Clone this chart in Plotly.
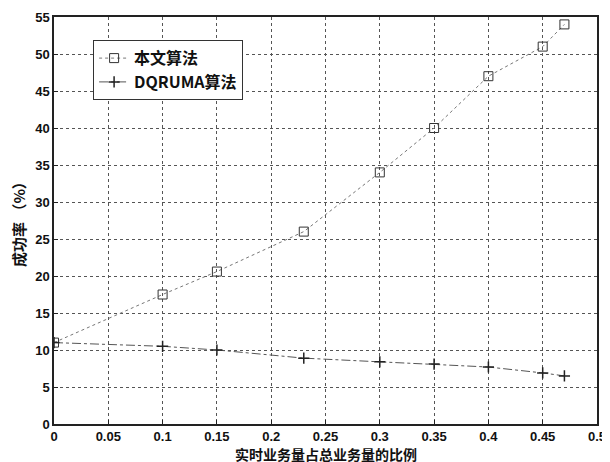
import plotly.graph_objects as go

x_vals = [0, 0.1, 0.15, 0.23, 0.3, 0.35, 0.4, 0.45, 0.47]
ours = [11.0, 17.5, 20.6, 26.0, 34.0, 40.0, 47.0, 51.0, 54.0]
dqruma = [11.0, 10.5, 10.0, 8.9, 8.4, 8.1, 7.7, 6.9, 6.5]
x_ticks = [0, 0.05, 0.1, 0.15, 0.2, 0.25, 0.3, 0.35, 0.4, 0.45, 0.5]
x_tick_text = ["0", "0.05", "0.1", "0.15", "0.2", "0.25", "0.3", "0.35", "0.4", "0.45", "0.5"]
y_ticks = list(range(0, 56, 5))
x_title = "实时业务量占总业务量的比例"
y_title = "成功率 （%）"

font_main = "Liberation Sans, Arial, Noto Sans CJK SC"
font_cjk = "Noto Sans CJK SC"

fig = go.Figure()
fig.add_trace(go.Scatter(
    x=x_vals, y=ours, name="本文算法", mode="lines+markers",
    line=dict(color="#777777", width=1, dash="dot"),
    marker=dict(symbol="square-open", size=9, color="#333333", line=dict(width=1)),
))
fig.add_trace(go.Scatter(
    x=x_vals, y=dqruma, name="DQRUMA算法", mode="lines+markers",
    line=dict(color="#555555", width=1, dash="dashdot"),
    marker=dict(symbol="cross-thin", size=8, color="#222222", line=dict(width=1.5, color="#222222")),
))

axis_common = dict(
    showline=True, linecolor="#222222", linewidth=1.5, mirror=True,
    showgrid=True, gridcolor="#555555", gridwidth=1, griddash="dot",
    ticks="inside", ticklen=4, tickcolor="#222222", zeroline=False,
    automargin=False,
    tickfont=dict(family=font_main, size=13, color="#111111", weight="bold"),
)

fig.update_layout(
    width=600, height=454,
    margin=dict(l=46, r=11, t=9, b=38),
    paper_bgcolor="white", plot_bgcolor="white",
    showlegend=True,
    legend=dict(
        x=0.072, y=0.943, xanchor="left", yanchor="top",
        bgcolor="white", bordercolor="#333333", borderwidth=1,
        font=dict(family=font_cjk, size=16, color="#111111", weight="bold"),
        tracegroupgap=0, itemwidth=30,
    ),
    xaxis=dict(range=[0, 0.5], tickvals=x_ticks, ticktext=x_tick_text, ticklabelstandoff=0, **axis_common),
    yaxis=dict(range=[0, 55], tickvals=y_ticks, **axis_common),
    annotations=[
        dict(text=x_title, xref="paper", yref="paper", x=0.5, y=0,
             xanchor="center", yanchor="top", yshift=-19, showarrow=False, borderpad=0,
             font=dict(family=font_cjk, size=14, color="#111111", weight="bold")),
        dict(text=y_title, xref="paper", yref="paper", x=0, y=0.5,
             xanchor="right", yanchor="middle", xshift=-24, textangle=-90, showarrow=False, borderpad=0,
             font=dict(family=font_cjk, size=15, color="#111111", weight="bold")),
    ],
)

fig.write_html("out.html")
